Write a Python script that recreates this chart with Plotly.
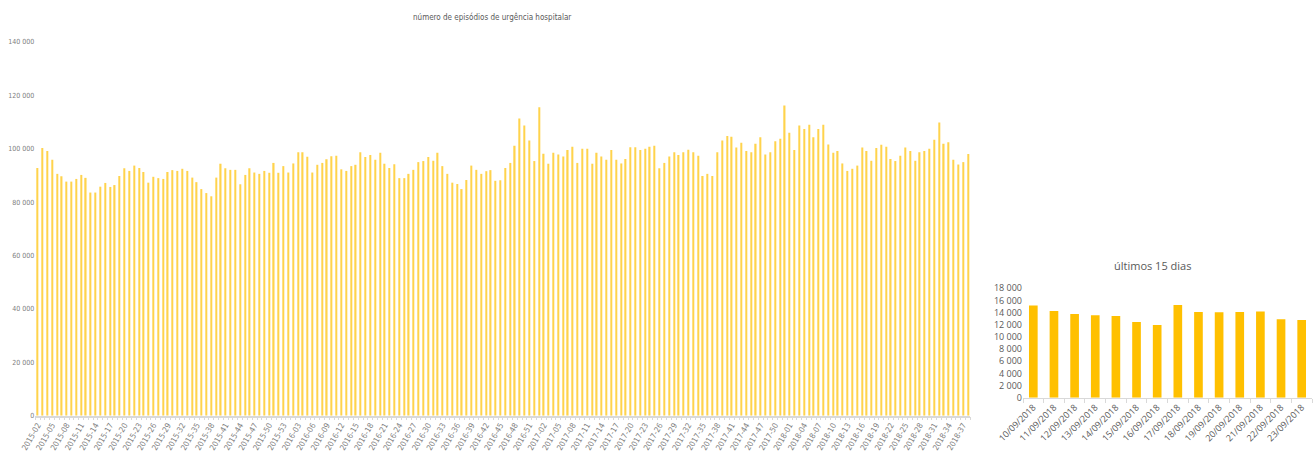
import plotly.graph_objects as go

# ---- data ----
weeks = ([f"2015-{w:02d}" for w in range(2, 54)] +
         [f"2016-{w:02d}" for w in range(1, 53)] +
         [f"2017-{w:02d}" for w in range(1, 53)] +
         [f"2018-{w:02d}" for w in range(1, 39)])

episodes = [
    92800, 100300, 99200, 95900, 90600, 89700, 87700, 87700, 88700, 90200,
    89100, 83600, 83600, 85800, 87200, 85700, 86400, 89800, 92700, 91700,
    93700, 92800, 91300, 87300, 89500, 89000, 88700, 91300, 92000, 91700,
    92500, 91700, 89200, 87500, 84900, 83400, 82200, 89200, 94400, 92700,
    92100, 92100, 86700, 90200, 92700, 91100, 90600, 91700, 91000, 94700,
    91000, 93500, 91100, 94500, 98700, 98700, 97000, 91100, 94000, 94700,
    96100, 97200, 97400, 92300, 91700, 93500, 94000, 98700, 96900, 97700,
    95900, 98500, 94400, 92800, 94200, 89000, 89000, 90600, 92100, 95000,
    95400, 96900, 95500, 98500, 93500, 90600, 87300, 86800, 84900, 88300,
    93700, 92100, 90600, 91600, 92000, 88000, 88200, 92800, 94700, 101100,
    111300, 108700, 103100, 95400, 115600, 98100, 94400, 98500, 97900, 97100,
    99500, 100800, 94700, 100000, 100000, 94400, 98500, 97100, 95900, 99500,
    95900, 94500, 96200, 100600, 100600, 99500, 100000, 100800, 101100, 92700,
    94700, 97100, 98700, 97700, 98700, 99600, 98700, 97400, 89800, 90600,
    89800, 98700, 103100, 104800, 104500, 100500, 102300, 99200, 98700, 101900,
    104300, 97900, 98700, 102800, 103800, 116200, 106000, 99500, 108700, 107400,
    109000, 104300, 107400, 109000, 101600, 98500, 99200, 94500, 91700, 92500,
    93700, 100500, 99200, 95500, 100300, 101500, 100800, 96200, 95400, 97400,
    100500, 99200, 95500, 98700, 99200, 100000, 103400, 109800, 101900, 102400,
    95900, 94100, 95000, 98000,
]

days = ["10/09/2018", "11/09/2018", "12/09/2018", "13/09/2018", "14/09/2018",
        "15/09/2018", "16/09/2018", "17/09/2018", "18/09/2018", "19/09/2018",
        "20/09/2018", "21/09/2018", "22/09/2018", "23/09/2018"]
daily = [15150, 14270, 13780, 13560, 13450, 12460, 11960, 15260, 14100, 14050,
         14100, 14200, 12900, 12800]

main_ticktext = [w if i % 3 == 0 else "" for i, w in enumerate(weeks)]

narrow = "Liberation Sans Narrow, DejaVu Sans Condensed, Arial Narrow, sans-serif"
grey = "#808080"
axis_grey = "#d9d9d9"

fig = go.Figure()
fig.add_trace(go.Bar(x=weeks, y=episodes, width=0.26,
                     marker=dict(color="#FFC000", line=dict(width=0)),
                     opacity=0.7, xaxis="x", yaxis="y", showlegend=False))
fig.add_trace(go.Bar(x=days, y=daily, width=0.42,
                     marker=dict(color="#FFC000", line=dict(width=0)),
                     xaxis="x2", yaxis="y2", showlegend=False))

fig.update_layout(
    width=1316, height=461,
    margin=dict(l=0, r=0, t=0, b=0),
    paper_bgcolor="white", plot_bgcolor="white",
    separators=", ",
    xaxis=dict(domain=[35.3 / 1316, 970.4 / 1316], type="category",
               categoryorder="array", categoryarray=weeks,
               tickmode="array", tickvals=weeks, ticktext=main_ticktext,
               tickson="boundaries", ticks="outside", ticklen=3,
               tickcolor=axis_grey, showline=True, linecolor=axis_grey,
               linewidth=1.5, showgrid=False, tickangle=-60, automargin=False,
               tickfont=dict(family=narrow, size=8, color=grey),
               range=[-0.5, len(weeks) - 0.5], anchor="y"),
    yaxis=dict(domain=[(461 - 415.7) / 461, (461 - 42) / 461],
               range=[0, 140000], dtick=20000, tickformat=",d",
               showgrid=False, zeroline=False, showline=False, automargin=False,
               tickfont=dict(family=narrow, size=7, color=grey),
               anchor="x"),
    xaxis2=dict(domain=[1023 / 1316, 1312 / 1316], type="category",
                tickson="boundaries", ticks="outside", ticklen=4,
                tickcolor=axis_grey, showline=True, linecolor=axis_grey,
                linewidth=1, showgrid=False, tickangle=-45, automargin=False,
                tickfont=dict(family="Open Sans, sans-serif", size=9, color="#595959"),
                range=[-0.5, len(days) - 0.5], anchor="y2"),
    yaxis2=dict(domain=[(461 - 397.7) / 461, (461 - 288.3) / 461],
                range=[0, 18000], dtick=2000, tickformat=",d",
                showgrid=False, zeroline=False, showline=False, automargin=False,
                tickfont=dict(family="Open Sans, sans-serif", size=9, color="#595959"),
                anchor="x2"),
    annotations=[
        dict(text="número de episódios de urgência hospitalar", x=492 / 1316,
             y=(461 - 17) / 461, xref="paper", yref="paper", showarrow=False,
             xanchor="center", yanchor="middle",
             font=dict(family=narrow, size=8, color="#595959")),
        dict(text="últimos 15 dias", x=1152 / 1316, y=(461 - 265) / 461,
             xref="paper", yref="paper", showarrow=False,
             xanchor="center", yanchor="middle",
             font=dict(family="Open Sans, sans-serif", size=11, color="#595959")),
    ],
)

fig.write_html("out.html", config={"displayModeBar": False},
               post_script="document.body.style.margin='0';")
